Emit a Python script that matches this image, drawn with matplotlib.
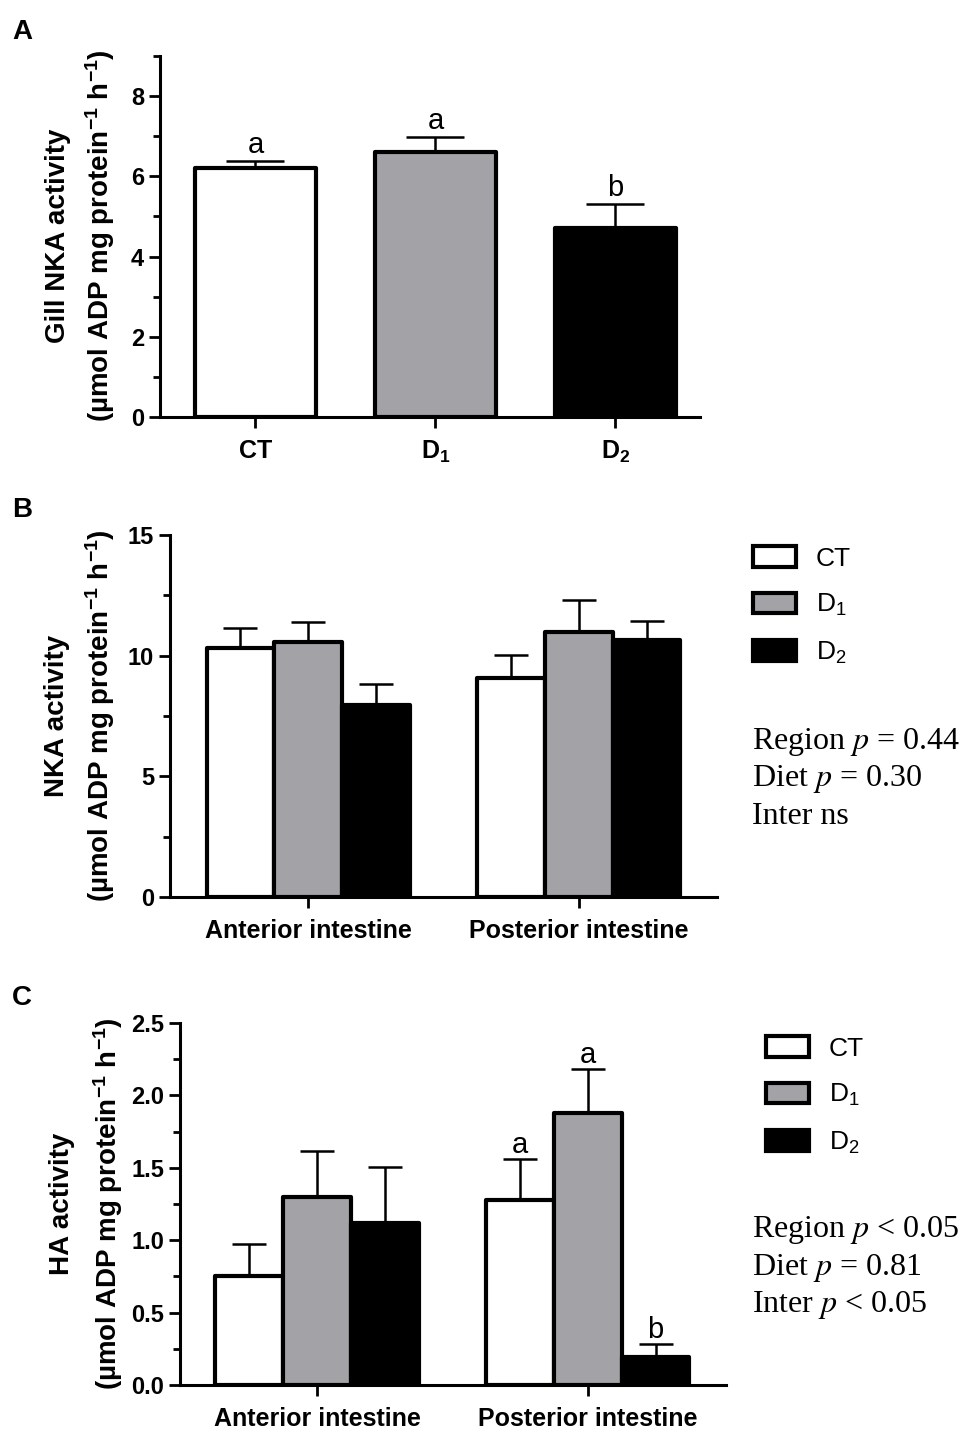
import numpy as np
import matplotlib
matplotlib.use("Agg")
import matplotlib.pyplot as plt

plt.rcParams["font.family"] = ["Liberation Sans", "DejaVu Sans"]
plt.rcParams["mathtext.fontset"] = "stix"
plt.rcParams["mathtext.default"] = "regular"

# ---------- данные ----------
gill_groups = ["CT", "D$_1$", "D$_2$"]
gill_mean = [6.2, 6.6, 4.72]
gill_sem = [0.18, 0.38, 0.58]
gill_letters = ["a", "a", "b"]

regions = ["Anterior intestine", "Posterior intestine"]
diets = ["CT", "D$_1$", "D$_2$"]

nka_ct = [10.32, 9.08]
nka_d1 = [10.57, 10.98]
nka_d2 = [7.97, 10.66]
nka_ct_sem = [0.82, 0.93]
nka_d1_sem = [0.81, 1.34]
nka_d2_sem = [0.86, 0.76]

ha_ct = [0.75, 1.275]
ha_d1 = [1.30, 1.88]
ha_d2 = [1.12, 0.19]
ha_ct_sem = [0.227, 0.283]
ha_d1_sem = [0.315, 0.30]
ha_d2_sem = [0.386, 0.093]
ha_letters_post = ["a", "a", "b"]

nka_stats = ["Region $\\it{p}$ = 0.44", "Diet $\\it{p}$ = 0.30", "Inter ns"]
ha_stats = ["Region $\\it{p}$ < 0.05", "Diet $\\it{p}$ = 0.81", "Inter $\\it{p}$ < 0.05"]

colors = ["white", "#a3a3a7", "black"]
W, H = 971, 1429


def fx(px):
    return px / W


def fy(py):
    return 1 - py / H


def style_axis(ax, ymax, major, minor):
    for s in ("top", "right"):
        ax.spines[s].set_visible(False)
    for s in ("left", "bottom"):
        ax.spines[s].set_linewidth(2.2)
    ax.set_ylim(0, ymax)
    ax.set_yticks(np.arange(0, ymax + 1e-9, major))
    ax.set_yticks(np.arange(0, ymax + 1e-9, minor), minor=True)
    ax.tick_params(axis="both", which="major", length=8, width=2, labelsize=17)
    ax.tick_params(axis="y", which="minor", length=5, width=2)
    ax.tick_params(axis="x", which="major", labelsize=18, pad=8)
    for lab in ax.get_yticklabels() + ax.get_xticklabels():
        lab.set_fontweight("bold")


def ylab(x1, x2, yc, title):
    fig.text(fx(x1), fy(yc), title, rotation=90, ha="center", va="center",
             fontsize=20, fontweight="bold")
    fig.text(fx(x2), fy(yc), "(µmol ADP mg protein$^{-1}$ h$^{-1}$)", rotation=90,
             ha="center", va="center", fontsize=20, fontweight="bold")


def legend_stats(ax, lx, ly, sx, sys_, lines):
    ax.legend(loc="upper left", bbox_to_anchor=(fx(lx), fy(ly)), bbox_transform=fig.transFigure,
              frameon=False, fontsize=19, handlelength=1.63, handleheight=0.83,
              labelspacing=0.82, handletextpad=0.75, borderpad=0, borderaxespad=0)
    for t, yy in zip(lines, sys_):
        fig.text(fx(sx), fy(yy), t, ha="left", va="center", fontsize=23,
                 family="Liberation Serif")


fig = plt.figure(figsize=(W / 100, H / 100), dpi=100)

# ---------- A ----------
axA = fig.add_axes([fx(160), fy(417), fx(700 - 160), fy(56) - fy(417)])
xa = np.arange(len(gill_groups))
axA.errorbar(xa, gill_mean, yerr=[np.zeros(3), gill_sem], fmt="none", ecolor="black",
             elinewidth=1.8, capsize=21, capthick=1.8, zorder=1)
axA.bar(xa, gill_mean, width=0.67, color=colors, edgecolor="black", linewidth=3,
        joinstyle="round", zorder=2)
for x, m, s, l in zip(xa, gill_mean, gill_sem, gill_letters):
    axA.text(x, m + s + 0.05, l, ha="center", va="bottom", fontsize=21)
axA.set_xlim(-0.53, 2.47)
axA.set_xticks(xa, gill_groups)
style_axis(axA, 9, 2, 1)
ylab(58, 100, 236, "Gill NKA activity")


def grouped(ax, means, sems, width=0.25):
    xg = np.arange(len(regions))
    for i, (m, s) in enumerate(zip(means, sems)):
        xs = xg + (i - 1) * width
        ax.errorbar(xs, m, yerr=[np.zeros(len(m)), s], fmt="none", ecolor="black",
                    elinewidth=1.8, capsize=12, capthick=1.8, zorder=1)
        ax.bar(xs, m, width=width, color=colors[i], edgecolor="black", linewidth=3,
               joinstyle="round", zorder=2, label=diets[i])
    ax.set_xticks(xg, regions)


# ---------- B ----------
axB = fig.add_axes([fx(170), fy(897), fx(717 - 170), fy(535) - fy(897)])
grouped(axB, [nka_ct, nka_d1, nka_d2], [nka_ct_sem, nka_d1_sem, nka_d2_sem])
axB.set_xlim(-0.51, 1.51)
style_axis(axB, 15, 5, 2.5)
ylab(57, 100, 716, "NKA activity")
legend_stats(axB, 753, 546, 752, [742, 779, 816], nka_stats)

# ---------- C ----------
axC = fig.add_axes([fx(180), fy(1385), fx(726 - 180), fy(1023) - fy(1385)])
grouped(axC, [ha_ct, ha_d1, ha_d2], [ha_ct_sem, ha_d1_sem, ha_d2_sem])
post = [ha_ct[1], ha_d1[1], ha_d2[1]]
post_sem = [ha_ct_sem[1], ha_d1_sem[1], ha_d2_sem[1]]
for i, (m, s, l) in enumerate(zip(post, post_sem, ha_letters_post)):
    axC.text(1 + (i - 1) * 0.25, m + s + 0.003, l, ha="center", va="bottom", fontsize=21)
axC.set_xlim(-0.506, 1.51)
style_axis(axC, 2.5, 0.5, 0.25)
axC.yaxis.set_major_formatter(matplotlib.ticker.FormatStrFormatter("%.1f"))
for lab in axC.get_yticklabels():
    lab.set_fontweight("bold")
ylab(62, 108, 1204, "HA activity")
legend_stats(axC, 766, 1036, 752, [1230, 1268, 1305], ha_stats)

# ---------- буквы панелей ----------
for letter, yy in zip("ABC", [32, 510, 998]):
    fig.text(fx(12), fy(yy), letter, ha="left", va="center", fontsize=20, fontweight="bold")

fig.savefig("out.png", dpi=100)
